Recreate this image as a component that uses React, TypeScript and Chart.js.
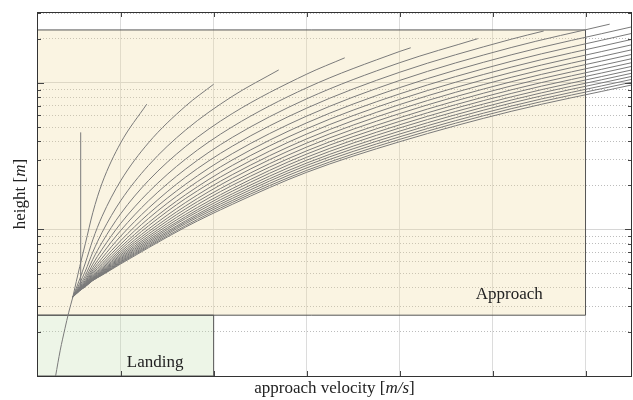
import React, { useEffect, useRef } from 'react';
import { Chart, registerables } from 'chart.js';
Chart.register(...registerables);

// ---- axes ----
const X_MIN = 1;
const X_MAX = 65;
const Y_MIN = 1;
const Y_MAX = 305;
const X_TICKS = [10, 20, 30, 40, 50, 60];
const Y_TICKS = [1, 2, 3, 4, 5, 6, 7, 8, 9, 10, 20, 30, 40, 50, 60, 70, 80, 90, 100, 200, 300];
const Y_MAJOR = [1, 10, 100];

// ---- regions ----
const APPROACH_VEL = [1, 60];
const APPROACH_H = [2.6, 230];
const LANDING_VEL = [1, 20];
const LANDING_H = [1, 2.6];
const APPROACH_LABEL = [51.8, 3.35];
const LANDING_LABEL = [13.7, 1.15];

// ---- trajectories ----
const TRACK_VEL = [3.0, 3.5, 4.0, 4.4, 4.85];
const TRACK_H = [1.0, 1.5, 2.1, 2.7, 3.45];
const VERTICAL_VEL = [5.7, 5.7];
const VERTICAL_H = [4.0, 46];

const VEL = [4.85, 5.6, 6.2, 7, 8, 10, 13, 17, 22, 30, 40, 52, 65];
const CURVE_HEIGHTS: (number | null)[][] = [
  [3.45, 5.6, 8.0, 13, 20.7, 39, null, null, null, null, null, null, null],
  [3.45, 4.6, 5.9, 8.5, 12.3, 21.5, 39.1, 69.7, null, null, null, null, null],
  [3.45, 4.3, 5.2, 7.0, 9.55, 15.7, 27.4, 47.8, 81.0, null, null, null, null],
  [3.45, 4.15, 4.85, 6.25, 8.16, 12.8, 21.6, 36.9, 61.8, 114.8, null, null, null],
  [3.45, 4.05, 4.65, 5.8, 7.33, 11.0, 18.0, 30.3, 50.2, 92.6, 164, null, null],
  [3.45, 4.0, 4.5, 5.5, 6.78, 9.84, 15.7, 25.9, 42.5, 77.9, 137.4, null, null],
  [3.45, 3.97, 4.4, 5.29, 6.38, 9.0, 14.0, 22.8, 37.0, 67.3, 118.3, 198.8, null],
  [3.45, 3.95, 4.35, 5.13, 6.08, 8.38, 12.8, 20.4, 32.9, 59.4, 104, 174.5, null],
  [3.45, 3.93, 4.3, 5.0, 5.85, 7.94, 11.9, 18.7, 29.8, 53.4, 92.9, 155.5, 241.7],
  [3.45, 3.92, 4.27, 4.9, 5.67, 7.59, 11.14, 17.3, 27.35, 48.7, 84.2, 140.4, 218],
  [3.45, 3.91, 4.24, 4.82, 5.51, 7.31, 10.6, 16.3, 25.3, 44.8, 77.2, 128.2, 198.5],
  [3.45, 3.9, 4.21, 4.76, 5.4, 7.07, 10.08, 15.3, 23.65, 41.5, 71.2, 117.9, 182.3],
  [3.45, 3.89, 4.19, 4.71, 5.3, 6.87, 9.67, 14.5, 22.3, 38.85, 66.1, 109.3, 168.6],
  [3.45, 3.88, 4.17, 4.67, 5.22, 6.7, 9.32, 13.85, 21.0, 36.5, 61.8, 101.9, 156.8],
  [3.45, 3.87, 4.15, 4.64, 5.16, 6.55, 9.0, 13.25, 20.0, 34.4, 57.9, 95.4, 146.6],
  [3.45, 3.86, 4.14, 4.61, 5.11, 6.42, 8.74, 12.7, 19.0, 32.7, 54.7, 89.7, 137.7],
  [3.45, 3.85, 4.13, 4.58, 5.06, 6.31, 8.5, 12.25, 18.25, 31.1, 51.8, 84.8, 129.9],
  [3.45, 3.85, 4.12, 4.56, 5.02, 6.21, 8.29, 11.9, 17.5, 29.7, 49.3, 80.3, 122.8],
  [3.45, 3.84, 4.11, 4.54, 4.98, 6.11, 8.11, 11.5, 16.87, 28.4, 46.9, 76.4, 116.6],
  [3.45, 3.84, 4.1, 4.52, 4.95, 6.03, 7.93, 11.23, 16.3, 27.35, 44.8, 72.9, 111.0],
  [3.45, 3.83, 4.09, 4.5, 4.92, 5.96, 7.77, 10.96, 15.76, 26.3, 42.9, 69.5, 105.9],
  [3.45, 3.83, 4.08, 4.49, 4.9, 5.89, 7.64, 10.64, 15.29, 25.3, 41.2, 66.7, 101.3],
  [3.45, 3.82, 4.07, 4.48, 4.88, 5.82, 7.51, 10.4, 14.84, 24.55, 39.7, 64.0, 97.0],
];
// end points of the curves that stop before the right edge
const CURVE_END_VEL = [12.8, 20, 27, 34.1, 41.2, 48.4, 55.5, 62.6];
const CURVE_END_H = [71.6, 98, 122.7, 148.4, 173.9, 200.5, 226.2, 251.9];

const FONT = '"Liberation Serif", "Times New Roman", serif';
const LINE_COLOR = '#7a7a7a';

function drawMixed(ctx: CanvasRenderingContext2D, parts: [string, boolean][], x: number, y: number, size: number) {
  let total = 0;
  const widths = parts.map(([t, it]) => {
    ctx.font = `${it ? 'italic ' : ''}${size}px ${FONT}`;
    const w = ctx.measureText(t).width;
    total += w;
    return w;
  });
  let cx = x - total / 2;
  ctx.textAlign = 'left';
  parts.forEach(([t, it], i) => {
    ctx.font = `${it ? 'italic ' : ''}${size}px ${FONT}`;
    ctx.fillText(t, cx, y);
    cx += widths[i];
  });
}

const overlay = {
  id: 'overlay',
  afterDraw(chart: any) {
    const { ctx, chartArea: a, scales } = chart;
    const xs = scales.x;
    const ys = scales.y;
    ctx.save();
    ctx.strokeStyle = '#444';
    ctx.lineWidth = 1;
    ctx.beginPath();
    for (const v of X_TICKS) {
      const px = Math.round(xs.getPixelForValue(v)) + 0.5;
      ctx.moveTo(px, a.bottom);
      ctx.lineTo(px, a.bottom - 5);
      ctx.moveTo(px, a.top);
      ctx.lineTo(px, a.top + 5);
    }
    for (const v of Y_TICKS) {
      const py = Math.round(ys.getPixelForValue(v)) + 0.5;
      const len = Y_MAJOR.includes(v) ? 7 : 4;
      ctx.moveTo(a.left, py);
      ctx.lineTo(a.left + len, py);
      ctx.moveTo(a.right, py);
      ctx.lineTo(a.right - len, py);
    }
    ctx.stroke();
    ctx.strokeStyle = '#333';
    ctx.strokeRect(Math.round(a.left) + 0.5, Math.round(a.top) + 0.5, Math.round(a.right - a.left) - 1, Math.round(a.bottom - a.top));

    ctx.fillStyle = '#222';
    ctx.textBaseline = 'alphabetic';
    ctx.textAlign = 'center';
    ctx.font = `17px ${FONT}`;
    ctx.fillText('Approach', xs.getPixelForValue(APPROACH_LABEL[0]), ys.getPixelForValue(APPROACH_LABEL[1]));
    ctx.fillText('Landing', xs.getPixelForValue(LANDING_LABEL[0]), ys.getPixelForValue(LANDING_LABEL[1]));

    ctx.textBaseline = 'middle';
    drawMixed(ctx, [['approach velocity [', false], ['m/s', true], [']', false]], (a.left + a.right) / 2, 389, 17);
    ctx.save();
    ctx.translate(21, (a.top + a.bottom) / 2);
    ctx.rotate(-Math.PI / 2);
    drawMixed(ctx, [['height [', false], ['m', true], [']', false]], 0, 0, 17);
    ctx.restore();
    ctx.restore();
  },
};

export default function App() {
  const ref = useRef<HTMLCanvasElement | null>(null);
  useEffect(() => {
    const canvas = ref.current;
    if (!canvas) return;
    const curves = CURVE_HEIGHTS.map((row, i) => {
      const pts: { x: number; y: number }[] = [];
      row.forEach((h, j) => {
        if (h !== null) pts.push({ x: VEL[j], y: h });
      });
      if (i < CURVE_END_VEL.length) pts.push({ x: CURVE_END_VEL[i], y: CURVE_END_H[i] });
      return {
        data: pts,
        borderColor: LINE_COLOR,
        borderWidth: 1,
        pointRadius: 0,
        fill: false,
        cubicInterpolationMode: 'monotone' as const,
        order: 0,
      };
    });
    const boxOutline = (vel: number[], h: number[]) => [
      { x: vel[0], y: h[0] },
      { x: vel[1], y: h[0] },
      { x: vel[1], y: h[1] },
      { x: vel[0], y: h[1] },
      { x: vel[0], y: h[0] },
    ];
    const datasets: any[] = [
      {
        data: [{ x: APPROACH_VEL[0], y: APPROACH_H[1] }, { x: APPROACH_VEL[1], y: APPROACH_H[1] }],
        fill: { value: APPROACH_H[0] },
        backgroundColor: 'rgba(240, 220, 160, 0.3)',
        borderColor: 'rgba(0,0,0,0)',
        borderWidth: 0,
        pointRadius: 0,
        order: 5,
      },
      {
        data: [{ x: LANDING_VEL[0], y: LANDING_H[1] }, { x: LANDING_VEL[1], y: LANDING_H[1] }],
        fill: { value: LANDING_H[0] },
        backgroundColor: 'rgba(195, 222, 175, 0.3)',
        borderColor: 'rgba(0,0,0,0)',
        borderWidth: 0,
        pointRadius: 0,
        order: 5,
      },
      {
        data: boxOutline(APPROACH_VEL, APPROACH_H),
        borderColor: '#555',
        borderWidth: 1,
        pointRadius: 0,
        fill: false,
        order: 4,
      },
      {
        data: boxOutline(LANDING_VEL, LANDING_H),
        borderColor: '#555',
        borderWidth: 1,
        pointRadius: 0,
        fill: false,
        order: 4,
      },
      {
        data: TRACK_VEL.map((v, i) => ({ x: v, y: TRACK_H[i] })),
        borderColor: LINE_COLOR,
        borderWidth: 1,
        pointRadius: 0,
        fill: false,
        cubicInterpolationMode: 'monotone',
        order: 0,
      },
      {
        data: VERTICAL_VEL.map((v, i) => ({ x: v, y: VERTICAL_H[i] })),
        borderColor: LINE_COLOR,
        borderWidth: 1,
        pointRadius: 0,
        fill: false,
        order: 0,
      },
      ...curves,
    ];
    const chart = new Chart(canvas, {
      type: 'line',
      data: { datasets },
      options: {
        animation: false,
        responsive: false,
        devicePixelRatio: 1,
        parsing: false as any,
        normalized: true,
        layout: { padding: { left: 37, right: 1, top: 12, bottom: 24 } },
        plugins: { legend: { display: false }, tooltip: { enabled: false } },
        scales: {
          x: {
            type: 'linear',
            min: X_MIN,
            max: X_MAX,
            afterBuildTicks: (s: any) => {
              s.ticks = X_TICKS.map((v) => ({ value: v }));
            },
            ticks: { display: false },
            grid: { color: '#dcdcdc', drawTicks: false, lineWidth: 1 },
            border: { display: false },
          },
          y: {
            type: 'logarithmic',
            min: Y_MIN,
            max: Y_MAX,
            afterBuildTicks: (s: any) => {
              s.ticks = Y_TICKS.map((v) => ({ value: v }));
            },
            ticks: { display: false },
            grid: {
              drawTicks: false,
              lineWidth: 1,
              color: (c: any) => (c.tick && Y_MAJOR.includes(c.tick.value) ? '#d6d6d6' : '#bcbcbc'),
            },
            border: {
              display: false,
              dash: (c: any) => (c.tick && Y_MAJOR.includes(c.tick.value) ? [] : [1, 2]),
            } as any,
          },
        },
      },
      plugins: [overlay],
    });
    return () => chart.destroy();
  }, []);
  return (
    <div style={{ position: 'fixed', left: 0, top: 0, width: 633, height: 400, background: '#fff' }}>
      <canvas ref={ref} width={633} height={400} style={{ display: 'block', width: 633, height: 400 }} />
    </div>
  );
}
